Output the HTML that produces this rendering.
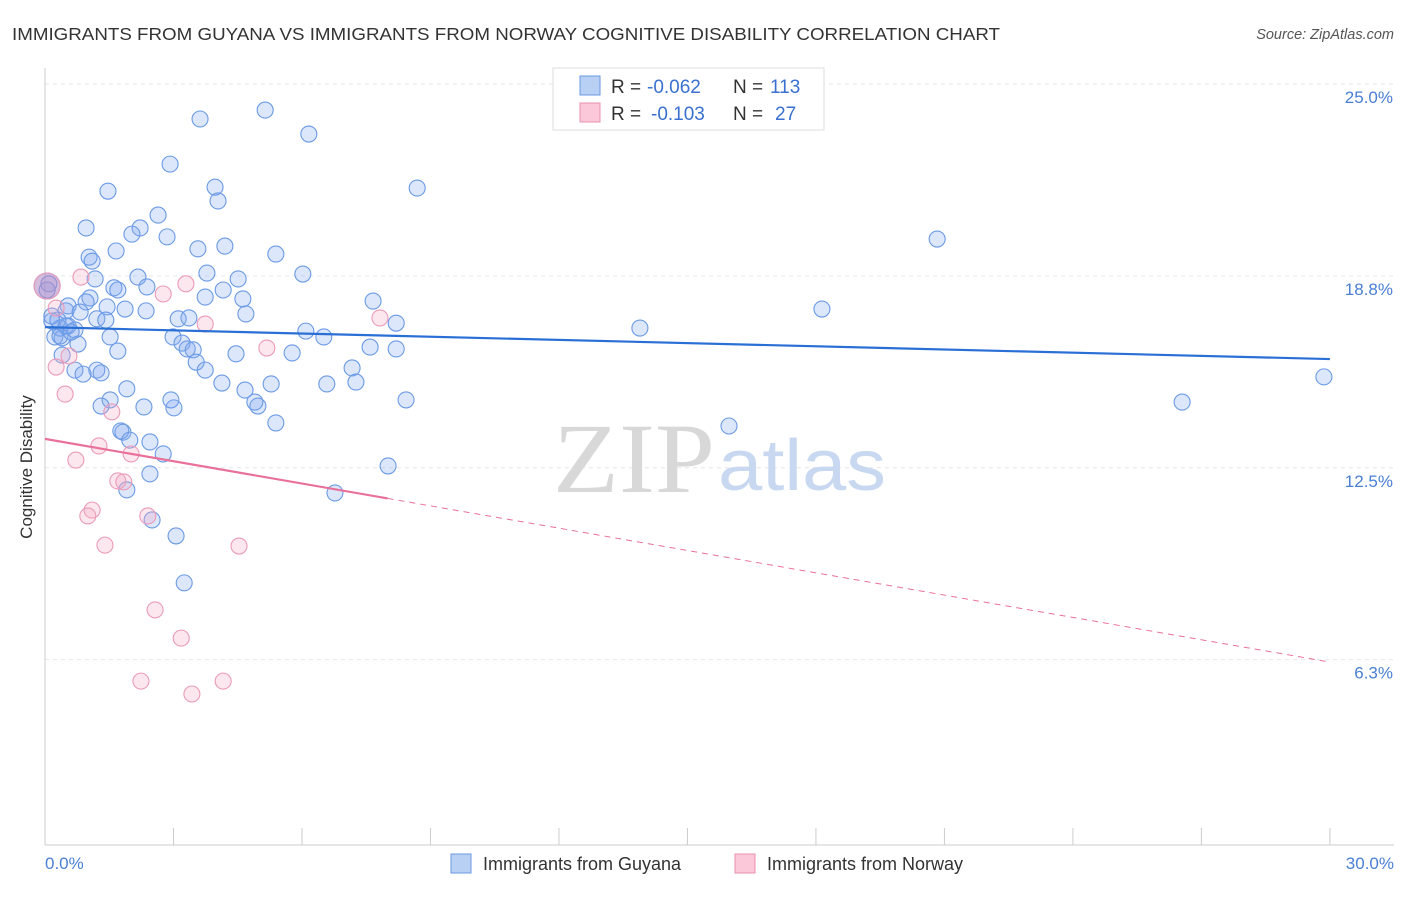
<!DOCTYPE html>
<html><head><meta charset="utf-8"><style>
body{margin:0;background:#fff;font-family:"Liberation Sans",sans-serif;}
svg text{font-family:"Liberation Sans",sans-serif;}
</style></head><body>
<svg id="chart" width="1406" height="892" viewBox="0 0 1406 892" xmlns="http://www.w3.org/2000/svg">
<text x="12" y="40" font-size="17.5" fill="#333" textLength="988" lengthAdjust="spacingAndGlyphs">IMMIGRANTS FROM GUYANA VS IMMIGRANTS FROM NORWAY COGNITIVE DISABILITY CORRELATION CHART</text>
<text x="1394" y="39" font-size="14.5" fill="#555" font-style="italic" text-anchor="end">Source: ZipAtlas.com</text>
<g id="grid"></g>
<line x1="45" y1="68" x2="45" y2="845" stroke="#ccc"/>
<line x1="45" y1="845" x2="1394" y2="845" stroke="#ccc"/>
<g id="xticks"></g>
<text x="553" y="492" font-size="100" fill="#d8d8d8" textLength="162" lengthAdjust="spacingAndGlyphs" style="font-family:'Liberation Serif',serif">ZIP</text>
<text x="718" y="490" font-size="72" fill="#c8d8f0" textLength="168" lengthAdjust="spacingAndGlyphs">atlas</text>
<g id="pts"></g>
<g id="lines"></g>
<text x="20" y="455" font-size="17" fill="#333" transform="rotate(-90 32 455)" text-anchor="middle">Cognitive Disability</text>
<text x="45" y="869" font-size="17" fill="#4a7fd4">0.0%</text>
<text x="1394" y="869" font-size="17" fill="#4a7fd4" text-anchor="end">30.0%</text>
<g id="ylabels"></g>
<g>
<rect x="553" y="68" width="271" height="62" fill="#fff" stroke="#ddd"/>
<rect x="580" y="76" width="20" height="19" fill="#b8d0f4" stroke="#6a9ae0"/>
<rect x="580" y="103" width="20" height="19" fill="#fac8d8" stroke="#e890b0"/>
<text x="611" y="93" font-size="19" fill="#333">R =</text>
<text x="647" y="93" font-size="19" fill="#3a70d0">-0.062</text>
<text x="733" y="93" font-size="19" fill="#333">N =</text>
<text x="770" y="93" font-size="19" fill="#3a70d0">113</text>
<text x="611" y="120" font-size="19" fill="#333">R =</text>
<text x="651" y="120" font-size="19" fill="#3a70d0">-0.103</text>
<text x="733" y="120" font-size="19" fill="#333">N =</text>
<text x="775" y="120" font-size="19" fill="#3a70d0">27</text>
</g>
<g>
<rect x="451" y="854" width="20" height="19" fill="#b8d0f4" stroke="#6a9ae0"/>
<text x="483" y="870" font-size="18" fill="#333">Immigrants from Guyana</text>
<rect x="735" y="854" width="20" height="19" fill="#fac8d8" stroke="#e890b0"/>
<text x="767" y="870" font-size="18" fill="#333">Immigrants from Norway</text>
</g>
</svg>
<script>
const yTicks=[25,18.75,12.5,6.25];
const yTickLabels=["25.0%","18.8%","12.5%","6.3%"];
const xTickVals=[0,3,6,9,12,15,18,21,24,27,30];
const guyanaX=[5.14,3.62,6.16,2.92,1.47,3.97,8.69,4.04,2.64,0.96,2.22,2.03,2.85,4.20,3.57,1.66,5.39,1.03,1.10,20.83,3.78,2.17,6.02,4.51,1.17,1.61,1.70,2.38,4.16,3.74,1.05,4.62,0.96,7.66,0.54,1.45,1.87,2.36,0.49,0.82,4.69,18.14,1.21,1.42,3.11,3.36,8.20,0.16,0.54,0.70,0.35,13.89,6.09,6.51,2.99,0.23,0.40,1.52,0.77,3.20,3.32,3.46,7.59,8.20,1.70,5.77,4.46,0.40,3.53,7.17,0.70,1.21,1.31,0.89,3.74,29.86,5.28,6.58,7.26,4.13,1.91,4.67,1.52,8.43,26.55,4.97,1.31,2.31,3.01,4.90,2.94,5.39,15.97,1.77,1.82,1.98,2.45,2.76,8.01,2.45,1.91,6.77,2.50,3.06,3.25,0.09,0.05,0.35,0.49,0.61,0.16,0.30,0.05];
const guyanaY=[24.15,23.86,23.37,22.39,21.51,21.64,21.61,21.19,20.73,20.31,20.31,20.11,20.02,19.72,19.63,19.56,19.46,19.36,19.23,19.95,18.84,18.71,18.81,18.65,18.65,18.36,18.29,18.39,18.29,18.06,18.03,18.00,17.90,17.93,17.77,17.74,17.67,17.61,17.61,17.57,17.51,17.67,17.35,17.31,17.35,17.38,17.21,17.28,17.12,16.99,17.05,17.05,16.95,16.76,16.76,16.76,16.73,16.76,16.53,16.56,16.37,16.34,16.43,16.37,16.30,16.24,16.21,16.17,15.94,15.75,15.68,15.68,15.59,15.55,15.68,15.46,15.23,15.23,15.29,15.26,15.07,15.03,14.71,14.71,14.64,14.51,14.51,14.48,14.45,14.64,14.71,13.96,13.86,13.70,13.66,13.40,13.34,12.95,12.56,12.30,11.78,11.68,10.80,10.28,8.75,18.49,18.29,16.79,17.12,16.92,17.44,17.31,18.42];
const norwayX=[0.05,0.84,3.29,2.76,0.26,0.56,0.26,0.47,1.56,3.74,7.82,5.18,1.26,0.72,2.01,1.70,1.84,1.10,1.00,2.40,1.40,4.53,2.57,3.18,2.24,4.16,3.43];
const norwayY=[18.42,18.71,18.49,18.16,17.70,16.14,15.78,14.90,14.32,17.18,17.38,16.40,13.21,12.75,12.95,12.07,12.04,11.12,10.93,10.93,9.98,9.95,7.87,6.95,5.55,5.55,5.13];
const guyanaTrend=[17.08,16.04];
const norwayTrend=[13.44,6.17];
const norwaySolidEnd=8.0;

const NS="http://www.w3.org/2000/svg";
const xs=v=>45+v*42.83;
const ys=v=>84+(25-v)*30.7;
function mk(tag,attrs,parent){const e=document.createElementNS(NS,tag);for(const k in attrs)e.setAttribute(k,attrs[k]);parent.appendChild(e);return e;}
const grid=document.getElementById('grid'),yl=document.getElementById('ylabels'),xt=document.getElementById('xticks');
yTicks.forEach((t,i)=>{
  const l=mk('line',{x1:45,x2:1394,y1:ys(t),y2:ys(t),stroke:'#e6e6e6','stroke-dasharray':'4,4'},grid);
  
  
  const tx=mk('text',{x:1393,y:ys(t)+19,'font-size':17,fill:'#4a7fd4','text-anchor':'end'},yl);
  tx.textContent=yTickLabels[i];
  
  
});
xTickVals.forEach(v=>{
  const l=mk('line',{x1:xs(v),x2:xs(v),y1:828,y2:845,stroke:'#ccc'},xt);
  
  
});
const pts=document.getElementById('pts');
guyanaX.forEach((x,i)=>{
  const big=i===guyanaX.length-1;
  const c=mk('circle',{cx:xs(x),cy:ys(guyanaY[i]),r:big?13:8,fill:big?'rgba(120,110,200,0.4)':'rgba(130,170,240,0.28)',stroke:'#6b9ae4','stroke-width':1.1},pts);
  
  
});
norwayX.forEach((x,i)=>{
  const c=mk('circle',{cx:xs(x),cy:ys(norwayY[i]),r:i===0?13:8,fill:'rgba(245,170,195,0.28)',stroke:'#eb9ab8','stroke-width':1.1},pts);
  
  
});
const lines=document.getElementById('lines');
const bl=mk('line',{x1:xs(0),y1:ys(guyanaTrend[0]),x2:xs(30),y2:ys(guyanaTrend[1]),stroke:'#2a6fd6','stroke-width':2.2},lines);


const ny=v=>norwayTrend[0]+(norwayTrend[1]-norwayTrend[0])*v/30;
const pl=mk('line',{x1:xs(0),y1:ys(ny(0)),x2:xs(norwaySolidEnd),y2:ys(ny(norwaySolidEnd)),stroke:'#e8709a','stroke-width':2.2},lines);


const pd=mk('line',{x1:xs(norwaySolidEnd),y1:ys(ny(norwaySolidEnd)),x2:xs(30),y2:ys(ny(30)),stroke:'#e8709a','stroke-width':1,'stroke-dasharray':'6,5'},lines);


</script>
</body></html>
